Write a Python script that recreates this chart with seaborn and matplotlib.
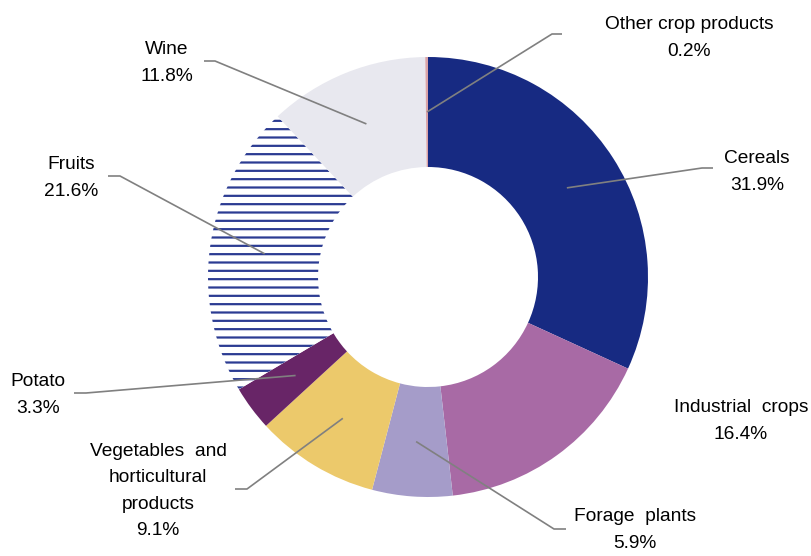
import numpy as np
import matplotlib
matplotlib.use("Agg")
import matplotlib.pyplot as plt
import seaborn as sns

# data
categories = ["Cereals", "Industrial  crops", "Forage  plants",
              "Vegetables  and\nhorticultural\nproducts", "Potato", "Fruits",
              "Wine", "Other crop products"]
shares = [31.9, 16.4, 5.9, 9.1, 3.3, 21.6, 11.8, 0.2]
colors = ["#172A82", "#A86AA5", "#A59CC9", "#ECC96B", "#682567", "#FFFFFF",
          "#E8E8EF", "#D9A3A8"]

# label placement (image pixel coords): text centre, elbow, line end
label_pos = [(757, 172), (741, 421), (635, 530), (158, 491), (38, 395),
             (71, 178), (167, 63), (689, 38)]
elbows = [(702, 168), None, (554, 529), (247, 489), (86, 393),
          (120, 176), (215, 61), (552, 34)]
ends = [(713, 168), None, (566, 529), (235, 489), (74, 393),
        (108, 176), (204, 61), (562, 34)]

W, H = 811, 556
sns.set_theme(style="white")
plt.rcParams["font.family"] = ["Liberation Sans", "DejaVu Sans"]
plt.rcParams["hatch.linewidth"] = 1.6

fig = plt.figure(figsize=(W / 100, H / 100), dpi=100)
ax = fig.add_axes([0, 0, 1, 1])

cx, cy, R = 428, 277, 220
wedges, _ = ax.pie(shares, colors=colors, startangle=90, counterclock=False,
                   radius=R, center=(cx, H - cy),
                   wedgeprops=dict(width=R / 2, linewidth=0))

# fruits: horizontal navy stripes on white
fr = wedges[categories.index("Fruits")]
fr.set_edgecolor("#2B3B92")
fr.set_linewidth(0)
fr.set_hatch("--")

ax.set_xlim(0, W)
ax.set_ylim(0, H)
ax.set_aspect("equal")
ax.axis("off")

for i, w in enumerate(wedges):
    name = categories[i]
    tx, ty = label_pos[i]
    ax.text(tx, H - ty, f"{name}\n{shares[i]:.1f}%", ha="center", va="center",
            fontsize=13.8, color="black", linespacing=1.72)
    if elbows[i] is None:
        continue
    mid = np.deg2rad((w.theta1 + w.theta2) / 2)
    r0 = R * 0.75
    sx, sy = cx + r0 * np.cos(mid), (H - cy) + r0 * np.sin(mid)
    ex, ey = elbows[i]
    fx, fy = ends[i]
    ax.plot([sx, ex, fx], [sy, H - ey, H - fy], color="#808080", lw=1.2,
            solid_capstyle="butt", zorder=5)

fig.savefig("out.png", dpi=100)
